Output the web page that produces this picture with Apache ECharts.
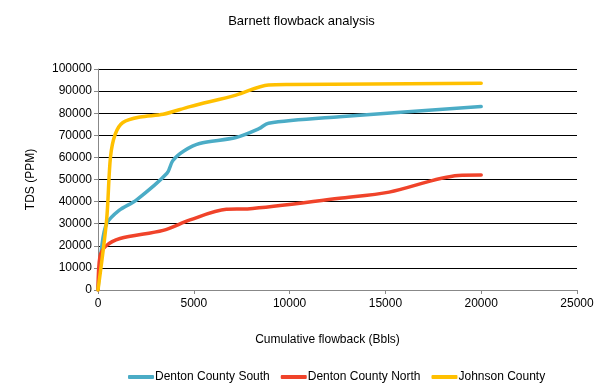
<!DOCTYPE html>
<html><head><meta charset="utf-8">
<script src="https://cdn.jsdelivr.net/npm/echarts@6/dist/echarts.min.js"></script>
<style>html,body{margin:0;padding:0;background:#fff}#c{width:603px;height:383px}</style>
</head><body><div id="c"></div>
<script>
const seriesNames = ["Denton County South", "Denton County North", "Johnson County"];
const dentonSouth = [[0,0],[200,20000],[450,30000],[1100,36000],[2000,40700],[3600,52800],[3900,58500],[4500,63000],[5300,66300],[7200,69000],[8400,73000],[8900,75500],[12600,78400],[20000,83000]];
const dentonNorth = [[0,0],[100,15000],[400,19800],[1150,23300],[3400,27000],[4800,31700],[6700,36500],[7800,36700],[12600,41500],[15200,44300],[18800,51800],[20000,52000]];
const johnson = [[0,0],[450,31700],[650,60000],[900,70500],[1300,75800],[2200,78300],[3400,79500],[4800,83000],[7200,88200],[8900,92800],[10000,93000],[20000,93500]];
const colors = ["#4BACC6", "#F0432A", "#FFC000"];
const font = "Liberation Sans";
const chart = echarts.init(document.getElementById('c'), null, {renderer:'canvas'});
const data = [dentonSouth, dentonNorth, johnson];
chart.setOption({
  animation:false,
  textStyle:{fontFamily:font},
  title:{text:"Barnett flowback analysis", left:'center', top:10, textStyle:{fontFamily:font, fontSize:13, fontWeight:'normal', color:'#000'}},
  grid:{left:98, right:26, top:69, bottom:93},
  legend:{top:366, left:123, itemWidth:26, itemHeight:4, itemGap:11, icon:'roundRect',
    textStyle:{fontFamily:font, fontSize:12, color:'#000', padding:[0,0,0,-4]}, data:seriesNames},
  xAxis:{type:'value', min:0, max:25000, interval:5000,
    name:"Cumulative flowback (Bbls)", nameLocation:'middle', nameGap:44,
    nameTextStyle:{fontFamily:font, fontSize:12, color:'#000', padding:[0,20,0,0]},
    axisLine:{lineStyle:{color:'#888'}}, axisTick:{show:true, length:4, lineStyle:{color:'#888'}},
    axisLabel:{fontFamily:font, fontSize:12, color:'#000', margin:8, formatter:v=>String(v)}, splitLine:{show:false}},
  yAxis:{type:'value', min:0, max:100000, interval:10000,
    name:"TDS (PPM)", nameLocation:'middle', nameGap:61, nameRotate:90,
    nameTextStyle:{fontFamily:font, fontSize:12, color:'#000'},
    axisLine:{show:true, lineStyle:{color:'#888'}}, axisTick:{show:true, length:4, lineStyle:{color:'#888'}},
    axisLabel:{fontFamily:font, fontSize:12, color:'#000', margin:6, formatter:v=>String(v)},
    splitLine:{show:true, lineStyle:{color:'#000', width:1}}},
  series: seriesNames.map((n,i)=>({name:n, type:'line', data:data[i], smooth:0.3, showSymbol:false,
    lineStyle:{color:colors[i], width:3.5, cap:'round'}, itemStyle:{color:colors[i]}}))
});
</script></body></html>
